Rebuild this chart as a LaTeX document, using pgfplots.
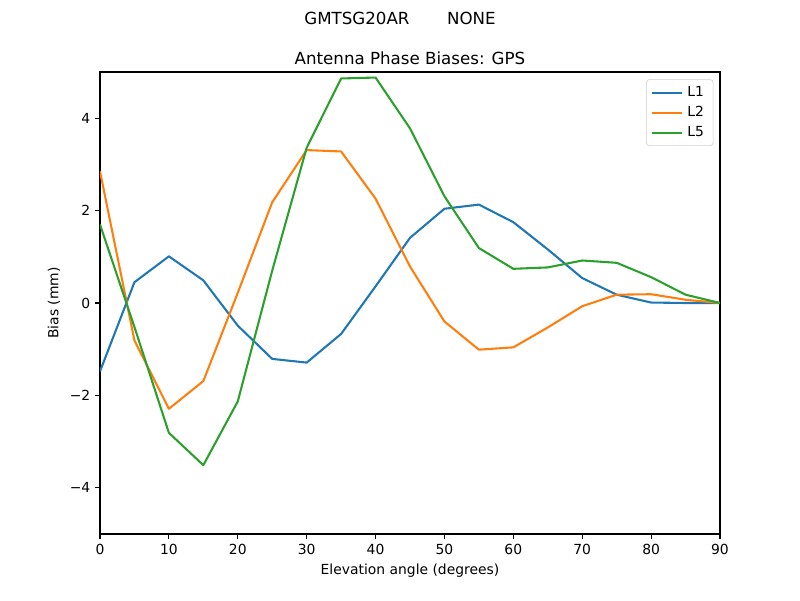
\documentclass[border=0pt]{standalone}
\usepackage{pgfplots}
\pgfplotsset{compat=1.18}
\usepackage{fontspec}
\setmainfont{DejaVu Sans}
\definecolor{c1}{HTML}{1F77B4}
\definecolor{c2}{HTML}{FF7F0E}
\definecolor{c3}{HTML}{2CA02C}
\begin{document}
\begin{tikzpicture}
\path[use as bounding box] (0,0) rectangle (576pt,432pt);
\node[anchor=north,inner sep=0pt,font=\fontsize{12}{14}\selectfont] at (288pt,423.4pt) {GMTSG20AR\hspace{27pt}NONE};
\begin{axis}[
  at={(72pt,47.52pt)}, anchor=south west,
  scale only axis, width=446.4pt, height=332.64pt,
  xmin=0, xmax=90, ymin=-5, ymax=5,
  xtick={0,10,...,90},
  ytick={-4,-2,0,2,4},
  yticklabels={−4,−2,0,2,4},
  /pgf/number format/assume math mode=true,
  ticklabel style={font=\fontsize{10}{12}\selectfont},
  tick align=outside,
  major tick length=3.5pt,
  tick style={black, line width=0.8pt},
  xtick pos=bottom, ytick pos=left,
  axis line style={line width=0.8pt},
  xlabel={Elevation angle (degrees)},
  ylabel={Bias (mm)},
  label style={font=\fontsize{10}{12}\selectfont},
  title={Antenna Phase Biases: GPS},
  title style={font=\fontsize{12}{14}\selectfont, at={(0.5,1)}, anchor=south, yshift=-4.5pt},
  legend style={at={(1,1)}, anchor=north east, xshift=-4.8pt, yshift=-5.3pt,
    draw=black!20, rounded corners=2pt, font=\fontsize{10}{12}\selectfont,
    row sep=1.5pt, inner xsep=3pt, inner ysep=3pt,
    nodes={inner xsep=3.5pt}},
  legend cell align=left,
  legend image code/.code={\draw[#1] (0pt,0pt) -- (21.5pt,0pt);},
  every axis plot/.append style={line width=1.5pt, line join=round},
]
\addplot[c1] coordinates {
(0,-1.48) (5,0.45) (10,1.01) (15,0.49) (20,-0.49) (25,-1.21) (30,-1.29) (35,-0.67)
(40,0.36) (45,1.41) (50,2.04) (55,2.13) (60,1.75) (65,1.16) (70,0.54) (75,0.18)
(80,0.01) (85,0.0) (90,0.0)};
\addlegendentry{L1}
\addplot[c2] coordinates {
(0,2.85) (5,-0.81) (10,-2.29) (15,-1.69) (20,0.22) (25,2.18) (30,3.31) (35,3.28)
(40,2.26) (45,0.79) (50,-0.40) (55,-1.01) (60,-0.96) (65,-0.53) (70,-0.07) (75,0.18)
(80,0.19) (85,0.07) (90,0.0)};
\addlegendentry{L2}
\addplot[c3] coordinates {
(0,1.70) (5,-0.52) (10,-2.81) (15,-3.51) (20,-2.13) (25,0.70) (30,3.36) (35,4.86)
(40,4.88) (45,3.78) (50,2.31) (55,1.19) (60,0.74) (65,0.77) (70,0.92) (75,0.87)
(80,0.56) (85,0.18) (90,0.0)};
\addlegendentry{L5}
\end{axis}
\end{tikzpicture}
\end{document}
